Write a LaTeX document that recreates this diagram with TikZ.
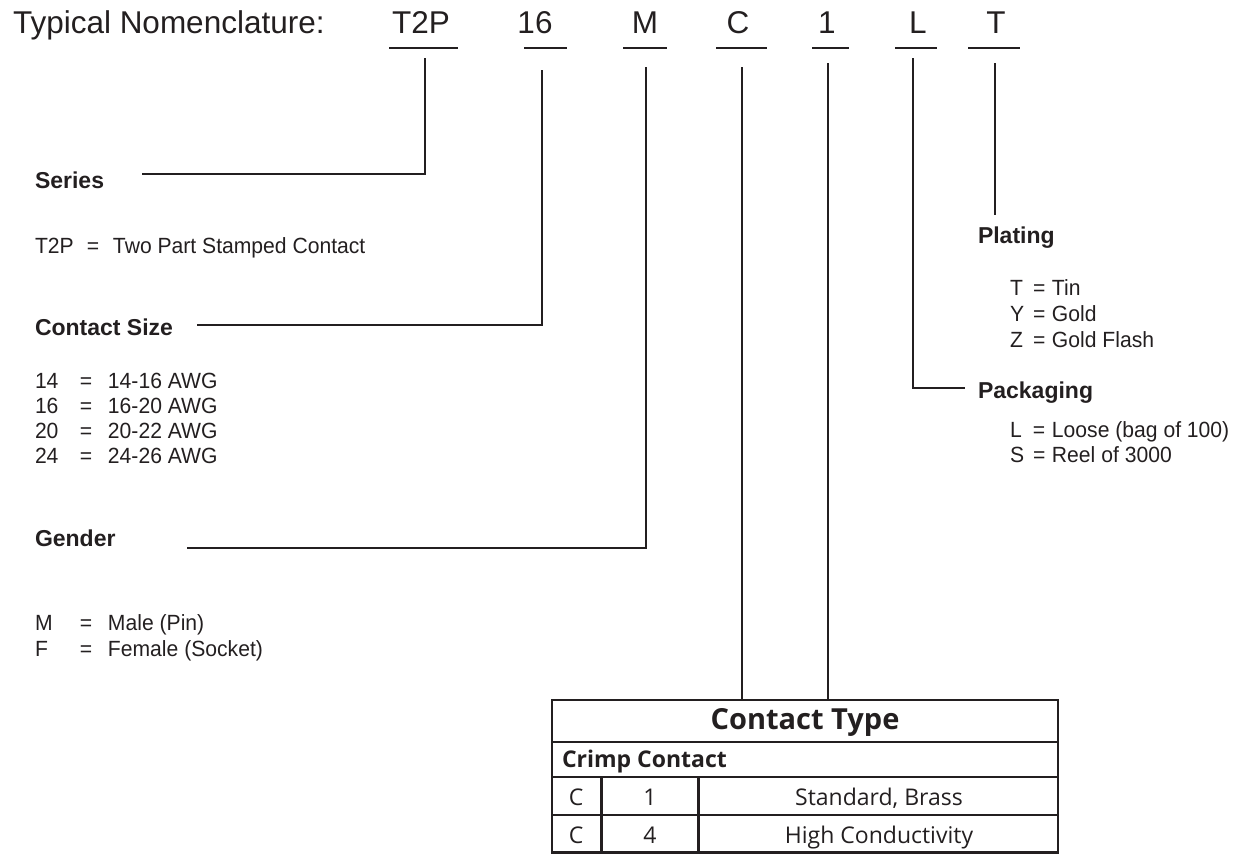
\documentclass[tikz,border=0pt]{standalone}
\usepackage{fontspec}
\setmainfont{Liberation Sans}
\newfontfamily\cond[FakeStretch=0.96]{Liberation Sans}
\newfontfamily\tbl{Open Sans}
\definecolor{ink}{HTML}{231F20}
\begin{document}
\begin{tikzpicture}[x=1pt,y=-1pt,
  every node/.style={inner sep=0pt, outer sep=0pt, text=ink},
  hdr/.style={font=\fontsize{31.5}{36}\selectfont, anchor=base},
  lbl/.style={font=\bfseries\fontsize{23}{27}\selectfont, anchor=base west},
  val/.style={font=\cond\fontsize{22}{25}\selectfont, anchor=base west},
  uline/.style={line width=2.6pt, draw=ink},
  conn/.style={line width=1.3pt, draw=ink},
  tline/.style={line width=2.6pt, draw=ink},
  tbold/.style={font=\tbl\bfseries\fontsize{23}{27}\selectfont},
  tcell/.style={font=\tbl\fontsize{23}{27}\selectfont, anchor=base}]
\useasboundingbox (0,0) rectangle (1243,854);

% header
\node[hdr, anchor=base west] (title) at (13,33) {Typical Nomenclature:};
\node[hdr] (cT2P) at (421,33) {T2P};
\node[hdr] (c16) at (535,33) {16};
\node[hdr] (cM) at (645,33) {M};
\node[hdr] (cC) at (738,33) {C};
\node[hdr] (c1) at (827,33) {1};
\node[hdr] (cL) at (918,33) {L};
\node[hdr] (cT) at (996,33) {T};
\draw[uline] (389,48) -- (458,48);
\draw[uline] (524,48) -- (567,48);
\draw[uline] (623,48) -- (667,48);
\draw[uline] (716,48) -- (767,48);
\draw[uline] (812,48) -- (849,48);
\draw[uline] (895,48) -- (937,48);
\draw[uline] (968,48) -- (1020,48);

% left labels
\node[lbl] (series) at (35,188) {Series};
\node[val] (seriesv) at (35,253) {\makebox[52pt][l]{T2P}\makebox[26pt][l]{=}Two Part Stamped Contact};
\node[lbl] (size) at (35,335) {Contact Size};
\node[val] (s14) at (35,388) {\makebox[45pt][l]{14}\makebox[28pt][l]{=}14-16 AWG};
\node[val] (s16) at (35,413) {\makebox[45pt][l]{16}\makebox[28pt][l]{=}16-20 AWG};
\node[val] (s20) at (35,438) {\makebox[45pt][l]{20}\makebox[28pt][l]{=}20-22 AWG};
\node[val] (s24) at (35,463) {\makebox[45pt][l]{24}\makebox[28pt][l]{=}24-26 AWG};
\node[lbl] (gender) at (35,546) {Gender};
\node[val] (gM) at (35,630) {\makebox[45pt][l]{M}\makebox[28pt][l]{=}Male (Pin)};
\node[val] (gF) at (35,656) {\makebox[45pt][l]{F}\makebox[28pt][l]{=}Female (Socket)};

% right labels
\node[lbl] (plating) at (978,243) {Plating};
\node[val] (pT) at (1010,295) {\makebox[23pt][l]{T}\makebox[19pt][l]{=}Tin};
\node[val] (pY) at (1010,321) {\makebox[23pt][l]{Y}\makebox[19pt][l]{=}Gold};
\node[val] (pZ) at (1010,347) {\makebox[23pt][l]{Z}\makebox[19pt][l]{=}Gold Flash};
\node[lbl] (pack) at (978,398) {Packaging};
\node[val] (kL) at (1010,437) {\makebox[23pt][l]{L}\makebox[19pt][l]{=}Loose (bag of 100)};
\node[val] (kS) at (1010,462) {\makebox[23pt][l]{S}\makebox[19pt][l]{=}Reel of 3000};

% table
\node[draw, tline, minimum width=506pt, minimum height=42pt, anchor=north west] (ctypebox) at (552,700) {};
\node[anchor=base, font=\tbl\bfseries\fontsize{29}{34}\selectfont] (ctype) at (805,729) {Contact Type};
\draw[tline] (552,742) rectangle (1058,852.5);
\draw[tline] (552,777) -- (1058,777);
\draw[tline] (552,815) -- (1058,815);
\draw[tline] (601.5,777) -- (601.5,852.5);
\draw[tline] (698.5,777) -- (698.5,852.5);
\node[tbold, anchor=base west] (crimp) at (562,767) {Crimp Contact};
\node[tcell] (r1a) at (576,805) {C};
\node[tcell] (r1b) at (650,805) {1};
\node[tcell] (r1c) at (879,805) {Standard, Brass};
\node[tcell] (r2a) at (576,843) {C};
\node[tcell] (r2b) at (650,843) {4};
\node[tcell] (r2c) at (879,843) {High Conductivity};

% connectors
\coordinate (t2pTop) at (425,58);
\coordinate (seriesEnd) at (142,174);
\draw[conn] (t2pTop) |- (seriesEnd);
\coordinate (sizeTop) at (542,70);
\coordinate (sizeEnd) at (197,325);
\draw[conn] (sizeTop) |- (sizeEnd);
\coordinate (mTop) at (646,67);
\coordinate (genderEnd) at (187,548);
\draw[conn] (mTop) |- (genderEnd);
\coordinate (cTop) at (742,67);
\draw[conn] (cTop) -- (cTop |- ctypebox.north);
\coordinate (oneTop) at (828,63);
\draw[conn] (oneTop) -- (oneTop |- ctypebox.north);
\coordinate (lTop) at (913,58);
\coordinate (packEnd) at (965,388);
\draw[conn] (lTop) |- (packEnd);
\coordinate (tTop) at (995,63);
\coordinate (platEnd) at (995,215);
\draw[conn] (tTop) -- (platEnd);
\end{tikzpicture}
\end{document}
